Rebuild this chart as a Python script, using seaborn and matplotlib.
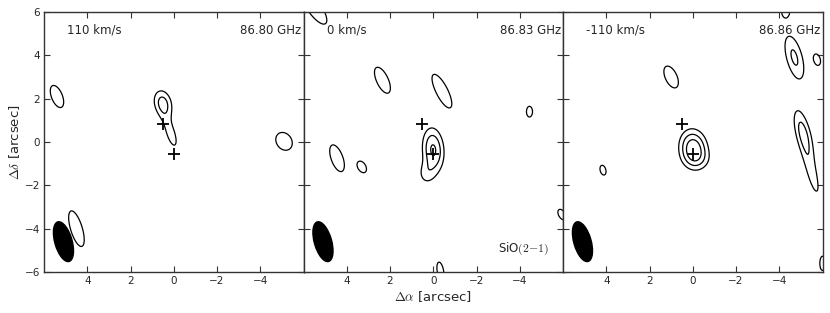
import numpy as np
import matplotlib
matplotlib.use("Agg")
import matplotlib.pyplot as plt
from matplotlib.patches import Ellipse
import seaborn as sns

# Channel labels
velocities = ["110 km/s", "0 km/s", "-110 km/s"]
frequencies = ["86.80 GHz", "86.83 GHz", "86.86 GHz"]

# Contour levels (noise units)
levels = [3, 5, 7]

# Emission components per channel: offsets [arcsec], peak, major/minor width [arcsec], PA [deg]
p1_x = [5.4, 0.5, 0.12, -5.1, 4.5]
p1_y = [2.1, 1.8, 0.35, 0.03, -4.0]
p1_amp = [4.5, 5.6, 3.8, 4.4, 4.5]
p1_smaj = [0.6, 0.5, 0.75, 0.5, 0.95]
p1_smin = [0.28, 0.33, 0.25, 0.4, 0.3]
p1_pa = [22, 15, 18, 35, 17]

p2_x = [5.5, 2.35, -0.4, -4.45, 4.45, 3.3, 0.0, 0.35, -5.95, -0.33]
p2_y = [6.2, 2.85, 2.35, 1.4, -0.75, -1.15, -0.35, -1.5, -3.35, -5.95]
p2_amp = [4.5, 4.5, 4.5, 4.2, 4.5, 4.2, 7.3, 3.0, 4.0, 4.2]
p2_smaj = [1.0, 0.72, 0.95, 0.3, 0.72, 0.35, 0.75, 0.42, 0.35, 0.5]
p2_smin = [0.35, 0.3, 0.3, 0.17, 0.3, 0.22, 0.37, 0.32, 0.2, 0.18]
p2_pa = [35, 25, 27, 0, 20, 30, 5, 0, 30, 10]

p3_x = [1.0, 4.15, -0.03, -0.25, -4.7, -4.3, -5.75, -5.1, -5.55, -6.0, 6.2]
p3_y = [3.0, -1.3, -0.3, -0.85, 3.9, 6.05, 3.8, 0.45, -1.6, -5.6, -3.3]
p3_amp = [4.5, 4.2, 8.6, 1.4, 5.4, 4.2, 4.2, 5.5, 3.6, 4.2, 4.0]
p3_smaj = [0.6, 0.28, 0.63, 0.35, 0.93, 0.3, 0.32, 0.9, 1.1, 0.4, 0.4]
p3_smin = [0.3, 0.16, 0.46, 0.5, 0.33, 0.2, 0.18, 0.28, 0.25, 0.15, 0.2]
p3_pa = [25, 15, 8, 0, 15, 0, 15, 15, 15, 0, 30]

# Continuum/reference positions
cross_x = [0.5, 0.0]
cross_y = [0.85, -0.55]

# Synthesized beam
beam_x, beam_y = 5.1, -4.6
beam_major, beam_minor, beam_pa = 1.9, 0.8, 16

panels = [
    (p1_x, p1_y, p1_amp, p1_smaj, p1_smin, p1_pa),
    (p2_x, p2_y, p2_amp, p2_smaj, p2_smin, p2_pa),
    (p3_x, p3_y, p3_amp, p3_smaj, p3_smin, p3_pa),
]


def make_map(X, Y, xs, ys, amps, smaj, smin, pas):
    img = np.zeros_like(X)
    for x0, y0, a, sj, sn, pa in zip(xs, ys, amps, smaj, smin, pas):
        t = np.deg2rad(pa)
        dx, dy = X - x0, Y - y0
        u = dx * np.sin(t) + dy * np.cos(t)
        v = dx * np.cos(t) - dy * np.sin(t)
        img += a * np.exp(-u**2 / (2 * sj**2) - v**2 / (2 * sn**2))
    return img


sns.set_style("ticks")
plt.rcParams["mathtext.fontset"] = "cm"
plt.rcParams["font.family"] = ["DejaVu Sans"]
plt.rcParams["xtick.direction"] = "in"
plt.rcParams["ytick.direction"] = "in"

fig = plt.figure(figsize=(8.3, 3.13), dpi=100)
W, H = 830, 313
grid = np.linspace(-7, 7, 500)
X, Y = np.meshgrid(grid, grid)

for i, comps in enumerate(panels):
    ax = fig.add_axes([(44 + 259.5 * i) / W, 41 / H, 259.5 / W, 260 / H])
    img = make_map(X, Y, *comps)
    ax.contour(X, Y, img, levels=levels, colors="black", linewidths=0.9)
    ax.plot(cross_x, cross_y, "k+", markersize=8, markeredgewidth=1.3)
    ax.add_patch(Ellipse((beam_x, beam_y), beam_minor, beam_major,
                         angle=-beam_pa, facecolor="black", edgecolor="black"))
    ax.set_xlim(6, -6)
    ax.set_ylim(-6, 6)
    ax.set_xticks([4, 2, 0, -2, -4])
    ax.set_yticks([-6, -4, -2, 0, 2, 4, 6])
    ax.tick_params(top=True, right=True, length=4, width=0.8, labelsize=7.5,
                   color="#333333", pad=3)
    for s in ax.spines.values():
        s.set_linewidth(1.0)
        s.set_color("#333333")
    if i > 0:
        ax.set_yticklabels([])
    else:
        ax.set_ylabel(r"$\Delta\delta$ [arcsec]", fontsize=9.5, labelpad=2)
    if i == 1:
        ax.set_xlabel(r"$\Delta\alpha$ [arcsec]", fontsize=9.5, labelpad=2)
        ax.text(0.945, 0.09, r"SiO$(2{-}1)$", transform=ax.transAxes,
                ha="right", va="center", fontsize=8.5)
    ax.text(0.09, 0.93, velocities[i], transform=ax.transAxes,
            ha="left", va="center", fontsize=8.5)
    ax.text(0.993, 0.93, frequencies[i], transform=ax.transAxes,
            ha="right", va="center", fontsize=8.5)

fig.savefig("out.png", dpi=100)
